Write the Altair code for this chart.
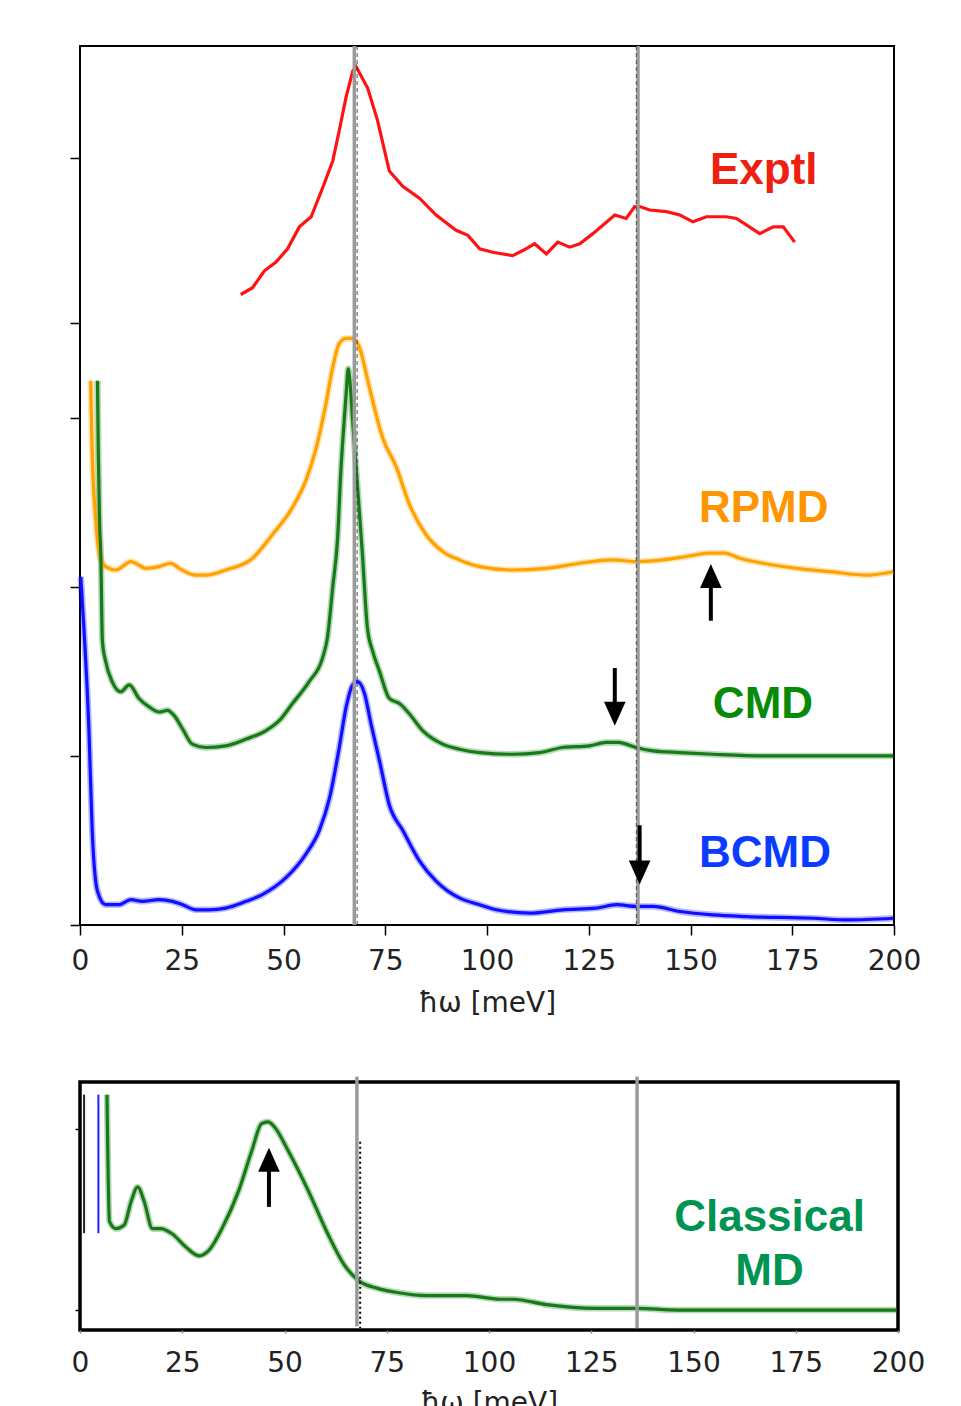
import altair as alt
import pandas as pd

# ---------------- data ----------------
x_ticks = [0, 25, 50, 75, 100, 125, 150, 175, 200]
top_y_ticks = [0, 10, 20, 30, 35.6, 45.4]
bottom_y_ticks = [0, 10]

exptl_x = [39.5, 42.4, 45.3, 48.1, 51.0, 53.9, 56.8, 59.6, 62.1, 63.7,
           65.4, 67.0, 67.8, 70.7, 73.1, 76.0, 79.3, 83.4, 87.5, 92.4,
           95.3, 98.2, 101.4, 106.3, 108.8, 111.7, 114.6, 117.4, 120.3, 122.8,
           126.0, 131.4, 134.2, 136.3, 137.5, 140.0, 144.1, 147.4, 150.6, 153.9,
           158.8, 161.3, 167.0, 170.3, 172.8, 175.6]
exptl_y = [37.3, 37.7, 38.7, 39.2, 40.0, 41.3, 41.9, 43.6, 45.2, 47.0,
           49.0, 50.5, 50.8, 49.5, 47.6, 44.6, 43.7, 43.0, 42.0, 41.1,
           40.8, 40.0, 39.8, 39.6, 39.9, 40.3, 39.7, 40.4, 40.1, 40.3,
           40.9, 42.0, 41.8, 42.5, 42.5, 42.3, 42.2, 42.0, 41.6, 41.9,
           41.9, 41.8, 40.9, 41.3, 41.3, 40.4]

rpmd_x = [2.6, 3.0, 3.9, 4.7, 6.3, 8.8, 12.5, 16.2, 19.4, 22.3, 24.4, 28.5,
          30.9, 35.8, 42.4, 47.3, 52.2, 55.5, 58.0, 60.4, 62.1, 63.7,
          65.4, 67.0, 68.6, 71.1, 74.4, 77.7, 80.9, 85.0, 89.1, 93.2,
          98.2, 106.3, 114.6, 122.8, 130.9, 136.7, 143.2, 149.0, 154.7, 158.4,
          162.1, 167.8, 176.1, 184.3, 193.3, 199.8]
rpmd_y = [32.2, 27.9, 23.9, 22.0, 21.2, 21.0, 21.5, 21.1, 21.2, 21.4, 21.1, 20.7,
          20.7, 21.0, 21.7, 23.1, 24.7, 26.3, 28.2, 30.8, 33.0, 34.4,
          34.7, 34.7, 34.2, 31.8, 28.8, 27.1, 24.9, 23.1, 22.1, 21.6,
          21.2, 21.0, 21.1, 21.4, 21.6, 21.5, 21.6, 21.8, 22.0, 22.0,
          21.7, 21.4, 21.1, 20.9, 20.7, 20.9]

cmd_x = [4.3, 4.5, 4.8, 5.1, 5.5, 6.3, 7.9, 10.0, 12.1, 14.5,
         17.0, 19.4, 21.5, 23.1, 25.2, 27.6, 30.9, 35.8, 40.8, 45.7,
         49.0, 52.2, 56.3, 59.6, 60.8, 62.1, 63.3, 64.1, 64.9, 65.5,
         65.9, 66.3, 67.0, 68.2, 69.4, 70.6, 71.9, 73.6, 76.0, 78.5,
         80.9, 84.2, 89.1, 93.2, 98.2, 106.3, 112.9, 118.6, 125.2, 129.3,
         132.2, 134.2, 136.7, 140.8, 147.4, 155.5, 167.8, 180.2, 199.8]
cmd_y = [32.2, 27.9, 23.9, 22.0, 16.8, 15.6, 14.4, 13.8, 14.2, 13.4,
         12.9, 12.6, 12.7, 12.4, 11.6, 10.7, 10.5, 10.6, 11.0, 11.5,
         12.1, 13.1, 14.4, 15.8, 17.0, 20.0, 22.9, 26.9, 29.8, 31.8,
         32.9, 32.2, 29.8, 25.9, 21.9, 17.6, 16.2, 15.0, 13.4, 13.1,
         12.5, 11.5, 10.7, 10.4, 10.2, 10.1, 10.2, 10.5, 10.6, 10.8,
         10.8, 10.7, 10.5, 10.3, 10.2, 10.1, 10.0, 10.0, 10.0]

bcmd_x = [0.2, 1.0, 2.2, 3.0, 4.3, 6.3, 9.6, 12.5, 15.3, 19.4,
          22.7, 25.2, 28.5, 31.7, 35.8, 40.8, 44.8, 50.6, 55.5, 58.8,
          61.3, 63.7, 65.4, 67.0, 68.2, 69.9, 71.5, 73.6, 76.0, 79.3,
          83.4, 87.5, 93.2, 98.2, 102.3, 110.5, 118.6, 126.9, 131.8, 136.7,
          140.8, 147.4, 155.5, 163.8, 180.2, 188.4, 199.8]
bcmd_y = [20.6, 17.4, 11.5, 5.6, 2.0, 1.2, 1.2, 1.5, 1.4, 1.5,
          1.4, 1.2, 0.9, 0.9, 1.0, 1.4, 1.8, 2.8, 4.2, 5.6,
          7.5, 10.5, 12.9, 14.2, 14.4, 13.7, 11.9, 9.7, 7.1, 5.6,
          3.8, 2.6, 1.6, 1.2, 0.9, 0.7, 0.9, 1.0, 1.2, 1.1,
          1.1, 0.8, 0.6, 0.5, 0.4, 0.3, 0.4]

classical_x = [6.6, 7.2, 8.8, 10.8, 12.5, 14.1, 15.7, 17.7, 19.7, 22.6,
               25.8, 29.1, 31.5, 34.7, 38.8, 42.0, 44.4, 46.0, 47.6, 50.9,
               55.8, 60.6, 64.6, 68.3, 72.7, 76.8, 84.9, 94.6, 102.7, 105.9,
               114.0, 126.1, 135.8, 146.3, 162.5, 199.5]
classical_y = [11.9, 4.9, 4.5, 4.7, 6.0, 6.8, 6.0, 4.5, 4.5, 4.2,
               3.5, 3.0, 3.3, 4.5, 6.6, 8.8, 10.3, 10.4, 10.1, 8.8,
               6.6, 4.2, 2.5, 1.6, 1.2, 1.0, 0.8, 0.8, 0.6, 0.6,
               0.3, 0.1, 0.1, 0.0, 0.0, 0.0]

series_names = ["Exptl", "RPMD", "CMD", "BCMD"]
line_colors = ["#ff1212", "#ffa200", "#167a16", "#1010ff"]

# reference lines (meV)
top_grey_x = [67.4, 137.1]
top_dash_x = [68.1, 136.7]
bottom_grey_x = [67.7, 136.2]
bottom_dot_x = [68.5]

# arrows: x, tail, head centre, direction
top_arrow_x = [155.0, 131.4, 137.5]
top_arrow_tail = [18.0, 15.2, 5.9]
top_arrow_head = [20.65, 12.5, 3.1]
top_arrow_dir = ["up", "down", "down"]
bottom_arrow_x = [46.2]
bottom_arrow_tail = [5.7]
bottom_arrow_head = [8.3]
bottom_arrow_dir = ["up"]

top_label_text = ["Exptl", "RPMD", "CMD", "BCMD"]
top_label_x = [168.0, 168.0, 167.8, 168.3]
top_label_y = [44.6, 24.6, 13.0, 4.2]
top_label_color = ["#ee2010", "#ff9500", "#078a07", "#0a3cff"]

bottom_label_text = ["Classical", "MD"]
bottom_label_x = [168.6, 168.6]
bottom_label_y = [5.1, 2.1]
bottom_label_color = ["#009452", "#009452"]

# stray coloured strokes at the left of the lower panel
stub_x = [1.0, 4.5]
stub_y = [11.9, 11.9]
stub_y2 = [4.25, 4.25]
stub_color = ["#222222", "#2020ff"]

UP = "M0,-1L-0.9,1L0.9,1Z"
DOWN = "M0,1L-0.9,-1L0.9,-1Z"

# ---------------- build ----------------
def curve_df(name, xs, ys):
    return pd.DataFrame({"x": xs, "y": ys, "series": name, "i": list(range(len(xs)))})

exptl_df = curve_df("Exptl", exptl_x, exptl_y)
sim_df = pd.concat([
    curve_df("RPMD", rpmd_x, rpmd_y),
    curve_df("CMD", cmd_x, cmd_y),
    curve_df("BCMD", bcmd_x, bcmd_y),
])
bottom_curve = curve_df("Classical", classical_x, classical_y)

FONT = "DejaVu Sans"
LFONT = "Liberation Sans"


def x_enc(tick_size, tick_color, label_pad, title_pad):
    return alt.X("x:Q", scale=alt.Scale(domain=[0, 200], nice=False, zero=False),
                 axis=alt.Axis(values=x_ticks, title="ħω [meV]", grid=False, domain=False,
                               tickSize=tick_size, tickColor=tick_color, tickWidth=1.5,
                               labelFont=FONT, labelFontSize=28, labelColor="#222222",
                               labelPadding=label_pad, titleFont=FONT, titleFontSize=28,
                               titleFontWeight="normal", titleColor="#222222",
                               titlePadding=title_pad, labelFlush=False))


def y_enc(domain, values, tick_size):
    return alt.Y("y:Q", scale=alt.Scale(domain=domain, nice=False, zero=False),
                 axis=alt.Axis(values=values, labels=False, title=None, grid=False,
                               domain=False, tickSize=tick_size, tickColor="black",
                               tickWidth=1.5))


XT = x_enc(10, "black", 12, 14)
YT = y_enc([0, 52], top_y_ticks, 10)
YT2 = alt.Y2("y2:Q")

color_enc = alt.Color("series:N", scale=alt.Scale(domain=series_names, range=line_colors), legend=None)

ebase = alt.Chart(exptl_df).encode(x=XT, y=YT, color=color_enc, order="i:Q")
e_line = ebase.mark_line(strokeWidth=3.2)

sbase = alt.Chart(sim_df).encode(x=XT, y=YT, color=color_enc, detail="series:N", order="i:Q")
s_band = sbase.mark_line(strokeWidth=6.5, opacity=0.3, interpolate="monotone")
s_line = sbase.mark_line(strokeWidth=3.2, interpolate="monotone")

t_grey = alt.Chart(pd.DataFrame({"x": top_grey_x, "y": [0, 0], "y2": [52, 52]})).mark_rule(
    color="#9a9a9a", strokeWidth=3.5).encode(x=XT, y=YT, y2=YT2)
t_dash = alt.Chart(pd.DataFrame({"x": top_dash_x, "y": [0, 0], "y2": [52, 52]})).mark_rule(
    color="#333333", strokeWidth=1.2, strokeDash=[4, 3], opacity=0.7).encode(x=XT, y=YT, y2=YT2)

t_shaft = alt.Chart(pd.DataFrame({"x": top_arrow_x, "y": top_arrow_tail, "y2": top_arrow_head})).mark_rule(
    color="black", strokeWidth=4).encode(x=XT, y=YT, y2=YT2)
t_head = alt.Chart(pd.DataFrame({"x": top_arrow_x, "y": top_arrow_head, "dir": top_arrow_dir})).mark_point(
    filled=True, size=576, color="black", opacity=1, strokeWidth=0).encode(
    x=XT, y=YT, shape=alt.Shape("dir:N", scale=alt.Scale(domain=["up", "down"], range=[UP, DOWN]), legend=None))

t_text = alt.Chart(pd.DataFrame({"x": top_label_x, "y": top_label_y, "text": top_label_text,
                                 "c": top_label_color})).mark_text(
    font=LFONT, fontWeight="bold", fontSize=44, align="center", baseline="middle").encode(
    x=XT, y=YT, text="text:N", color=alt.Color("c:N", scale=None))

top = alt.layer(s_band, s_line, e_line, t_grey, t_dash, t_shaft, t_head, t_text).properties(
    width=814, height=879, view=alt.ViewBackground(stroke="black", strokeWidth=2))

# ---- bottom panel ----
XB = x_enc(3, "#888888", 16, 12)
YB = y_enc([-1.1, 12.6], bottom_y_ticks, 5)

b_band = alt.Chart(bottom_curve).mark_line(strokeWidth=6.5, opacity=0.3, color="#167a16",
                                           interpolate="monotone").encode(x=XB, y=YB, order="i:Q")
b_line = alt.Chart(bottom_curve).mark_line(strokeWidth=3.2, color="#167a16",
                                           interpolate="monotone").encode(x=XB, y=YB, order="i:Q")

b_stub = alt.Chart(pd.DataFrame({"x": stub_x, "y": stub_y, "y2": stub_y2, "c": stub_color})).mark_rule(
    strokeWidth=2).encode(x=XB, y=YB, y2=YT2, color=alt.Color("c:N", scale=None))
b_grey = alt.Chart(pd.DataFrame({"x": bottom_grey_x, "y": [12.9, 12.9], "y2": [-0.9, -1.0]})).mark_rule(
    color="#9a9a9a", strokeWidth=3.5).encode(x=XB, y=YB, y2=YT2)
b_dot = alt.Chart(pd.DataFrame({"x": bottom_dot_x, "y": [9.3], "y2": [-1.0]})).mark_rule(
    color="black", strokeWidth=2, strokeDash=[2, 3]).encode(x=XB, y=YB, y2=YT2)
b_shaft = alt.Chart(pd.DataFrame({"x": bottom_arrow_x, "y": bottom_arrow_tail, "y2": bottom_arrow_head})).mark_rule(
    color="black", strokeWidth=4).encode(x=XB, y=YB, y2=YT2)
b_head = alt.Chart(pd.DataFrame({"x": bottom_arrow_x, "y": bottom_arrow_head, "dir": bottom_arrow_dir})).mark_point(
    filled=True, size=576, color="black", opacity=1, strokeWidth=0).encode(
    x=XB, y=YB, shape=alt.Shape("dir:N", scale=alt.Scale(domain=["up", "down"], range=[UP, DOWN]), legend=None))
b_text = alt.Chart(pd.DataFrame({"x": bottom_label_x, "y": bottom_label_y, "text": bottom_label_text,
                                 "c": bottom_label_color})).mark_text(
    font=LFONT, fontWeight="bold", fontSize=44, align="center", baseline="middle").encode(
    x=XB, y=YB, text="text:N", color=alt.Color("c:N", scale=None))

bottom = alt.layer(b_band, b_line, b_stub, b_grey, b_dot, b_shaft, b_head, b_text).properties(
    width=818, height=248, view=alt.ViewBackground(stroke="black", strokeWidth=3.5))

chart = alt.vconcat(top, bottom, spacing=55).properties(
    padding={"left": 58, "top": 35, "right": 10, "bottom": 5}
).resolve_scale(x="independent", y="independent", shape="independent", color="independent").configure(
    background="white")

chart.save("out.html", embed_options={"renderer": "svg", "actions": False})
